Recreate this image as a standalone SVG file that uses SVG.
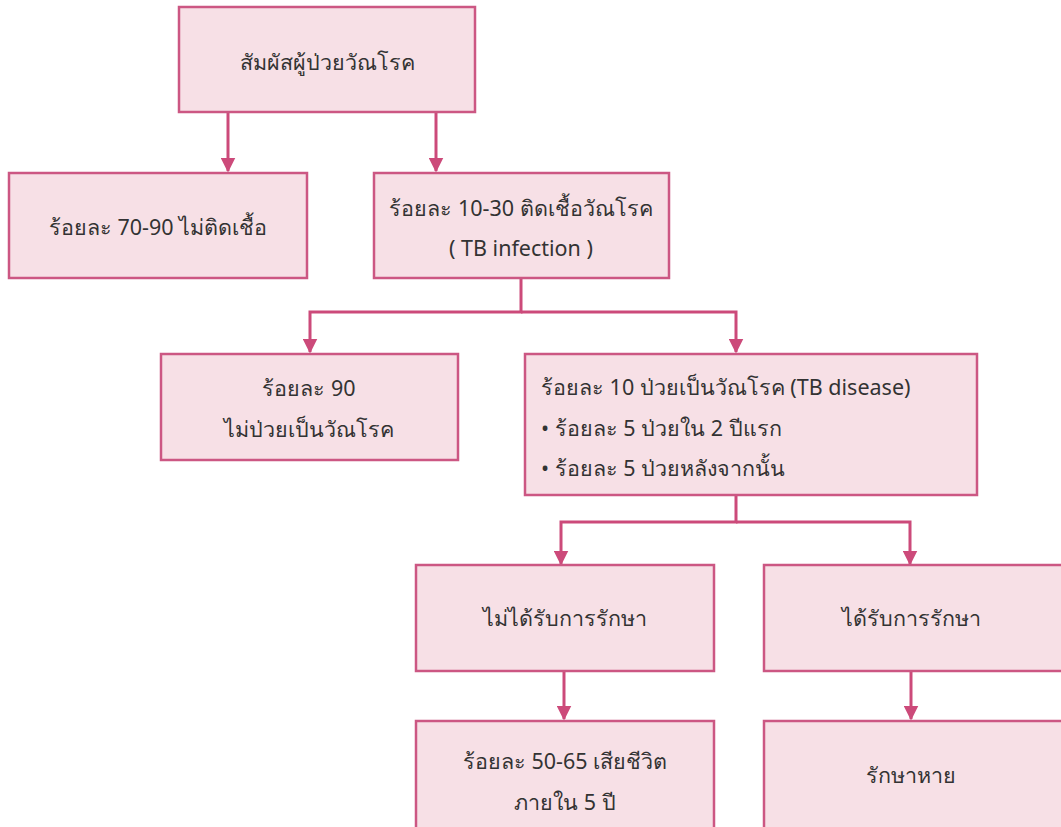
<svg xmlns="http://www.w3.org/2000/svg" width="1061" height="827" viewBox="0 0 1061 827">
<style>
.box{fill:#f7e0e6;stroke:#cc5783;stroke-width:2.5}
.t{font-family:"Noto Sans","Liberation Sans",sans-serif;font-size:21.5px;fill:#333;text-anchor:middle}
.tl{font-family:"Noto Sans","Liberation Sans",sans-serif;font-size:21.5px;fill:#333}
.c{fill:none;stroke:#cc4a7a;stroke-width:3}
</style>
<defs>
<marker id="ah" viewBox="0 0 10 10" refX="9" refY="5" markerWidth="5" markerHeight="5" orient="auto" markerUnits="strokeWidth">
<path d="M0,0 L10,5 L0,10 z" fill="#cc4a7a"/>
</marker>
</defs>
<rect width="1061" height="827" fill="#fff"/>
<g id="connectors">
<path class="c" d="M228,112 V171" marker-end="url(#ah)"/>
<path class="c" d="M436,112 V171" marker-end="url(#ah)"/>
<path class="c" d="M521,278 V312 H310 V352" marker-end="url(#ah)"/>
<path class="c" d="M521,312 H736 V352" marker-end="url(#ah)"/>
<path class="c" d="M736,495 V522 H561 V564" marker-end="url(#ah)"/>
<path class="c" d="M736,522 H910 V564" marker-end="url(#ah)"/>
<path class="c" d="M564,671 V719" marker-end="url(#ah)"/>
<path class="c" d="M911,671 V719" marker-end="url(#ah)"/>
</g>
<g id="n1"><rect class="box" x="179" y="7" width="296" height="105"/><text class="t" x="327" y="70">สัมผัสผู้ป่วยวัณโรค</text></g>
<g id="n2"><rect class="box" x="9" y="173" width="298" height="105"/><text class="t" x="158" y="235">ร้อยละ 70-90 ไม่ติดเชื้อ</text></g>
<g id="n3"><rect class="box" x="374" y="173" width="295" height="105"/><text class="t" x="521" y="216">ร้อยละ 10-30 ติดเชื้อวัณโรค</text><text class="t" x="521" y="256">( TB infection )</text></g>
<g id="n4"><rect class="box" x="161" y="354" width="297" height="106"/><text class="t" x="309" y="396">ร้อยละ 90</text><text class="t" x="309" y="437">ไม่ป่วยเป็นวัณโรค</text></g>
<g id="n5"><rect class="box" x="525" y="354" width="452" height="141"/><text class="tl" x="541" y="395">ร้อยละ 10 ป่วยเป็นวัณโรค (TB disease)</text><text class="tl" x="541" y="436">•  ร้อยละ 5 ป่วยใน 2 ปีแรก</text><text class="tl" x="541" y="476">•  ร้อยละ 5 ป่วยหลังจากนั้น</text></g>
<g id="n6"><rect class="box" x="416" y="565" width="298" height="106"/><text class="t" x="565" y="626">ไม่ได้รับการรักษา</text></g>
<g id="n7"><rect class="box" x="764" y="565" width="300" height="106"/><text class="t" x="911" y="626">ได้รับการรักษา</text></g>
<g id="n8"><rect class="box" x="416" y="721" width="298" height="110"/><text class="t" x="565" y="769">ร้อยละ 50-65 เสียชีวิต</text><text class="t" x="565" y="810">ภายใน 5 ปี</text></g>
<g id="n9"><rect class="box" x="764" y="721" width="300" height="110"/><text class="t" x="911" y="783">รักษาหาย</text></g>
</svg>
